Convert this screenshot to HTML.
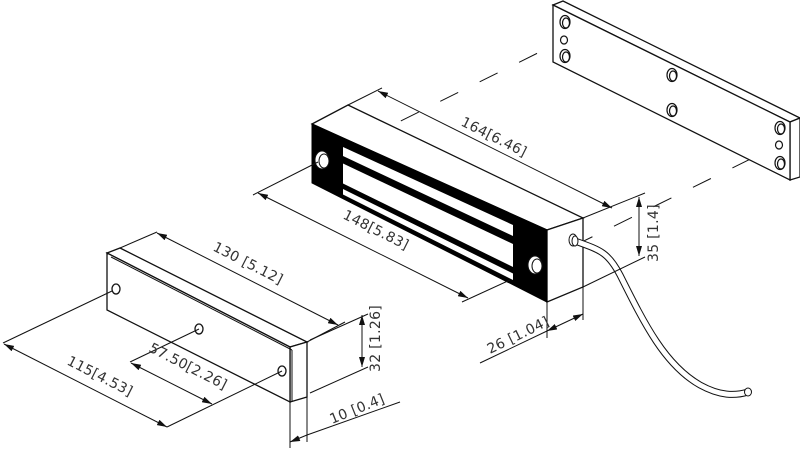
<!DOCTYPE html>
<html><head><meta charset="utf-8"><style>
html,body{margin:0;padding:0;background:#fff}
svg{display:block}
text{font-family:"DejaVu Sans","Liberation Sans",sans-serif;font-size:14px;fill:#333;font-weight:normal;letter-spacing:0.3px}
</style></head><body>
<svg width="800" height="450" viewBox="0 0 800 450" xmlns="http://www.w3.org/2000/svg">
<defs>
<marker id="a" viewBox="0 0 10 6" refX="10" refY="3" markerWidth="10" markerHeight="6" orient="auto-start-reverse" markerUnits="userSpaceOnUse"><path d="M0,0 L10,3 L0,6z" fill="#111"/></marker>
</defs>
<g stroke="#111" stroke-width="1" fill="none">
<line x1="322" y1="160" x2="564" y2="40" stroke-dasharray="20,24"/>
<line x1="535" y1="265" x2="779" y2="145" stroke-dasharray="20,24"/>

<path d="M553,5 L563,1 L800,118 L790,122 Z" fill="#fff" stroke-width="1.3"/>
<path d="M790,122 L800,118 L800,177 L790,180 Z" fill="#fff" stroke-width="1.3"/>
<path d="M553,5 L790,122 L790,180 L553,62 Z" fill="#fff" stroke-width="1.3"/>
<g stroke-width="1.2">
<ellipse cx="565" cy="22" rx="5" ry="6.5"/><ellipse cx="566" cy="23" rx="3.5" ry="5"/>
<ellipse cx="564" cy="40" rx="3.5" ry="4"/>
<ellipse cx="565" cy="56" rx="5" ry="6.5"/><ellipse cx="566" cy="57" rx="3.5" ry="5"/>
<ellipse cx="672" cy="75" rx="5" ry="6.5"/><ellipse cx="673" cy="76" rx="3.5" ry="5"/>
<ellipse cx="672" cy="110" rx="5" ry="6.5"/><ellipse cx="673" cy="111" rx="3.5" ry="5"/>
<ellipse cx="780" cy="128" rx="5" ry="6.5"/><ellipse cx="781" cy="129" rx="3.5" ry="5"/>
<ellipse cx="779" cy="145" rx="3.5" ry="4"/>
<ellipse cx="780" cy="163" rx="5" ry="6.5"/><ellipse cx="781" cy="164" rx="3.5" ry="5"/>
</g>

<path d="M312,124 L348,105 L583,218 L547,230 Z" fill="#fff" stroke-width="1.3"/>
<path d="M547,230 L583,218 L583,287 L547,302 Z" fill="#fff" stroke-width="1.3"/>
<path d="M312,124 L547,230 L547,302 L312,183 Z" fill="#000" stroke="#000"/>
<path d="M343,147 L513,225 L513,236 L343,156 Z" fill="#fff" stroke="none"/>
<path d="M343,163.5 L513,244 L513,267 L343,183.5 Z" fill="#fff" stroke="none"/>
<path d="M343,189 L513,273.5 L513,280 L343,194.5 Z" fill="#fff" stroke="none"/>
<ellipse cx="322" cy="160" rx="7" ry="9" fill="#fff"/><ellipse cx="324" cy="161" rx="5" ry="7" fill="#fff"/>
<ellipse cx="535" cy="265" rx="7" ry="9" fill="#fff"/><ellipse cx="537" cy="266" rx="5" ry="7" fill="#fff"/>
<path d="M575,241 C600,250 608,252 620,275 C645,325 665,365 700,385 C720,396 735,396 748,392" stroke="#111" stroke-width="7" stroke-linecap="round"/>
<path d="M575,241 C600,250 608,252 620,275 C645,325 665,365 700,385 C720,396 735,396 748,392" stroke="#fff" stroke-width="5"/>
<ellipse cx="748" cy="392" rx="3.5" ry="4" fill="#fff"/>
<ellipse cx="573" cy="240" rx="4" ry="6" fill="#fff"/>
<ellipse cx="575" cy="241" rx="3" ry="5" fill="#fff"/>

<line x1="348" y1="105" x2="382" y2="88"/>
<line x1="583" y1="218" x2="645" y2="193"/>
<line x1="378" y1="91" x2="612" y2="208" marker-start="url(#a)" marker-end="url(#a)"/>
<line x1="318" y1="162" x2="253" y2="195"/>
<line x1="510" y1="280" x2="462" y2="302"/>
<line x1="258" y1="193" x2="468" y2="298" marker-start="url(#a)" marker-end="url(#a)"/>
<line x1="583" y1="287" x2="645" y2="257"/>
<line x1="639" y1="197" x2="639" y2="256" marker-start="url(#a)" marker-end="url(#a)"/>
<line x1="547" y1="302" x2="547" y2="338"/>
<line x1="583" y1="287" x2="583" y2="320"/>
<line x1="547" y1="331" x2="583" y2="314" marker-start="url(#a)" marker-end="url(#a)"/>
<line x1="480" y1="363" x2="547" y2="331"/>

<path d="M107,253 L120,248 L307,342 L290,347 Z" fill="#fff" stroke-width="1.3"/>
<path d="M290,347 L307,342 L307,397 L290,402 Z" fill="#fff" stroke-width="1.3"/>
<path d="M107,253 L290,347 L290,402 L107,310 Z" fill="#fff" stroke-width="1.3"/>
<line x1="111" y1="257" x2="292" y2="350"/>
<line x1="292" y1="350" x2="292" y2="401"/>
<ellipse cx="116" cy="289" rx="4" ry="5" stroke-width="1.3"/>
<ellipse cx="199" cy="329" rx="4" ry="5" stroke-width="1.3"/>
<ellipse cx="282" cy="371" rx="4" ry="5" stroke-width="1.3"/>

<line x1="120" y1="248" x2="157" y2="232"/>
<line x1="307" y1="342" x2="345" y2="322"/>
<line x1="157" y1="233" x2="338" y2="325" marker-start="url(#a)" marker-end="url(#a)"/>
<line x1="310" y1="340" x2="368" y2="314"/>
<line x1="310" y1="393" x2="368" y2="367"/>
<line x1="362" y1="315" x2="362" y2="367" marker-start="url(#a)" marker-end="url(#a)"/>
<line x1="290" y1="402" x2="290" y2="448"/>
<line x1="307" y1="397" x2="307" y2="442"/>
<line x1="290" y1="442" x2="307" y2="435" marker-start="url(#a)"/>
<line x1="307" y1="435" x2="400" y2="402"/>
<line x1="112" y1="291" x2="3" y2="343"/>
<line x1="282" y1="371" x2="167" y2="427"/>
<line x1="199" y1="329" x2="130" y2="362"/>
<line x1="4" y1="344" x2="167" y2="427" marker-start="url(#a)" marker-end="url(#a)"/>
<line x1="131" y1="363" x2="212" y2="404" marker-start="url(#a)" marker-end="url(#a)"/>
</g>
<g>
<text transform="translate(460,125) rotate(26.6)">164[6.46]</text>
<text transform="translate(342,218) rotate(26.6)">148[5.83]</text>
<text transform="translate(658,262) rotate(-90)">35 [1.4]</text>
<text transform="translate(490,354) rotate(-26)">26 [1.04]</text>
<text transform="translate(212,250) rotate(27)">130 [5.12]</text>
<text transform="translate(380,372) rotate(-90)">32 [1.26]</text>
<text transform="translate(332,424) rotate(-22)">10 [0.4]</text>
<text transform="translate(66,364) rotate(27)">115[4.53]</text>
<text transform="translate(148,351) rotate(27)">57.50[2.26]</text>
</g>
</svg>
</body></html>
